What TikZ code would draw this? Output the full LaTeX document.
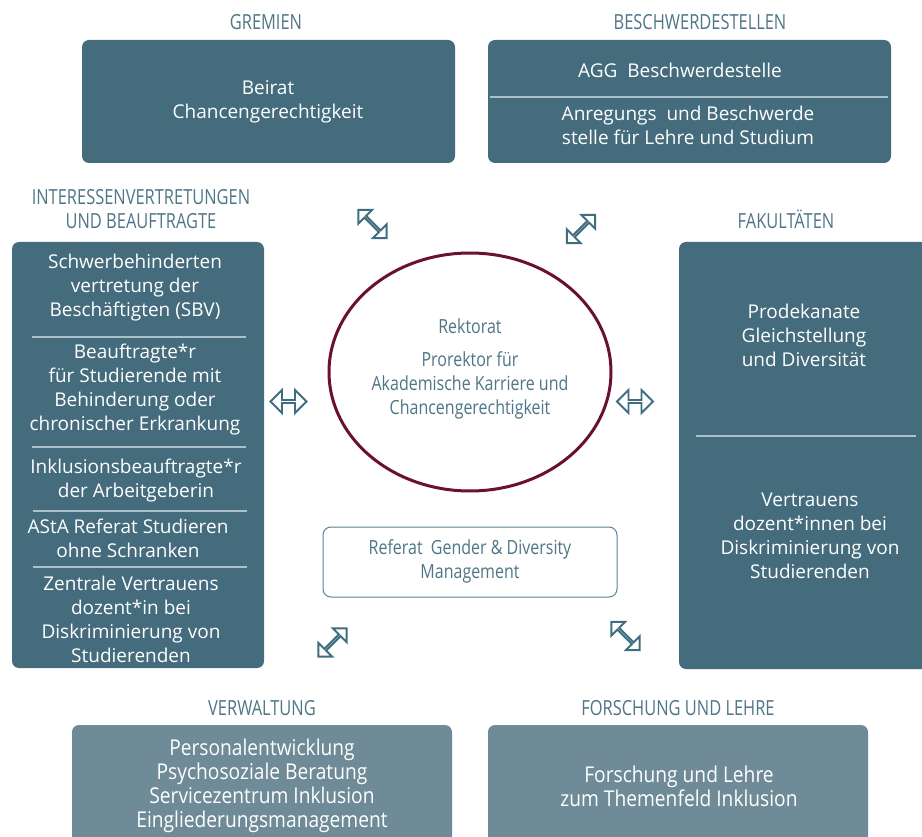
\documentclass[tikz,border=0pt]{standalone}
\usepackage{fontspec}
\setmainfont{Open Sans}
\newfontfamily\condf[FakeStretch=0.82]{Open Sans}
\newfontfamily\condh[FakeStretch=0.79]{Open Sans}
\newfontfamily\condb[FakeStretch=0.88]{Open Sans}
\usetikzlibrary{shapes.geometric,shapes.arrows}
\definecolor{boxc}{HTML}{446C7C}
\definecolor{lightbox}{HTML}{6F8B98}
\definecolor{lblc}{HTML}{4F7686}
\definecolor{ellc}{HTML}{6A1033}
\definecolor{arrc}{HTML}{3E6E80}
\definecolor{divc}{HTML}{A9C2CB}
\begin{document}
\begin{tikzpicture}[x=1pt,y=-1pt,
  darkbox/.style={fill=boxc, rounded corners=7pt, inner sep=0, draw=none},
  lightboxs/.style={fill=lightbox, rounded corners=7pt, inner sep=0, draw=none},
  boxtxt/.style={text=white, align=center, inner sep=0, font=\fontsize{19}{24}\selectfont},
  bottxt/.style={text=white, align=center, inner sep=0, font=\condb\fontsize{21.8}{24}\selectfont},
  lbl/.style={text=lblc, align=center, inner sep=0, font=\condf\fontsize{19.5}{24}\selectfont},
  head/.style={text=lblc, align=center, inner sep=0, font=\condh\fontsize{20.8}{24}\selectfont},
  divline/.style={draw=divc, line width=1.4pt},
  harrow/.style={double arrow, draw=arrc, fill=white, line width=1.9pt, inner sep=0,
    minimum height=36pt, minimum width=23pt, double arrow head extend=6.5pt},
  darrow/.style={double arrow, draw=arrc, fill=white, line width=1.9pt, inner sep=0,
    minimum height=40pt, minimum width=19.5pt, double arrow head extend=6.2pt}
]
\useasboundingbox (0,0) rectangle (922,837);
\clip (0,0) rectangle (922,837);
\fill[white] (0,0) rectangle (922,837);

% headings
\node[head] (hGrem) at (266,22) {GREMIEN};
\node[head] (hBesch) at (700,22) {BESCHWERDESTELLEN};
\node[head] (hInt) at (141,209) {INTERESSENVERTRETUNGEN\\UND BEAUFTRAGTE};
\node[head] (hFak) at (786,219) {FAKULTÄTEN};
\node[head] (hVerw) at (262,708) {VERWALTUNG};
\node[head] (hFor) at (678,708) {FORSCHUNG UND LEHRE};

% boxes
\node[darkbox, minimum width=373pt, minimum height=123pt] (beirat) at (268.5,101.5) {};
\node[darkbox, minimum width=403pt, minimum height=123pt] (besch) at (689.5,101.5) {};
\node[darkbox, minimum width=252pt, minimum height=426pt] (interess) at (138,455) {};
\node[darkbox, minimum width=262pt, minimum height=427pt] (fak) at (810,455.5) {};
\node[lightboxs, minimum width=380pt, minimum height=140pt] (verw) at (262,795) {};
\node[lightboxs, minimum width=380pt, minimum height=140pt] (forsch) at (678,795) {};

% top boxes text
\node[boxtxt] (tBeirat) at (268,101.5) {Beirat\\Chancengerechtigkeit};
\node[boxtxt] (tAGG) at (680,70) {AGG~ Beschwerdestelle};
\draw[divline] (490,97) -- (888,97);
\node[boxtxt] (tAnr) at (688,125) {Anregungs~ und Beschwerde\\stelle für Lehre und Studium};

% left box
\node[boxtxt] (tSBV) at (135,287.5) {Schwerbehinderten\\vertretung der\\Beschäftigten (SBV)};
\draw[divline] (32,337) -- (246,337);
\node[boxtxt] (tBeauf) at (135,390) {Beauftragte*r\\für Studierende mit\\Behinderung oder\\chronischer Erkrankung};
\draw[divline] (32,447) -- (246,447);
\node[boxtxt] (tInkl) at (136,481) {Inklusionsbeauftragte*r\\der Arbeitgeberin};
\draw[divline] (33,511) -- (247,511);
\node[boxtxt] (tAStA) at (128,538.5) {AStA Referat Studieren\\ohne Schranken};
\draw[divline] (33,567) -- (247,567);
\node[boxtxt] (tZent) at (131,619.5) {Zentrale Vertrauens\\dozent*in bei\\Diskriminierung von\\Studierenden};

% right box
\node[boxtxt] (tProd) at (804,335.5) {Prodekanate\\Gleichstellung\\und Diversität};
\draw[divline] (696,436) -- (916,436);
\node[boxtxt] (tVert) at (810,535.5) {Vertrauens\\dozent*innen bei\\Diskriminierung von\\Studierenden};

% bottom boxes text
\node[bottxt] (tVerw) at (262,786) {Personalentwicklung\\Psychosoziale Beratung\\Servicezentrum Inklusion\\Eingliederungsmanagement};
\node[bottxt] (tFor) at (679,786) {Forschung und Lehre\\zum Themenfeld Inklusion};

% centre
\node[ellipse, draw=ellc, line width=3pt, minimum width=282pt, minimum height=238pt, inner sep=0] (rek) at (470,372) {};
\node[lbl] (tRek) at (470,326) {Rektorat};
\node[lbl] (tPro) at (470,385) {Prorektor für\\Akademische Karriere und\\Chancengerechtigkeit};
\node[draw=arrc!85, line width=1pt, rounded corners=8pt, minimum width=294pt, minimum height=70pt, inner sep=0] (refbox) at (470,562) {};
\node[lbl] (tRef) at (470,561) {Referat~ Gender \& Diversity\\Management};

% arrows
\node[harrow] (aL) at (288.5,401.5) {};
\node[harrow] (aR) at (635,401.5) {};
\node[darrow, rotate=-45] (aTL) at (372.5,224) {};
\node[darrow, rotate=45] (aTR) at (581,229) {};
\node[darrow, rotate=45] (aBL) at (332.5,642.5) {};
\node[darrow, rotate=-45] (aBR) at (625.5,636) {};
\end{tikzpicture}
\end{document}
